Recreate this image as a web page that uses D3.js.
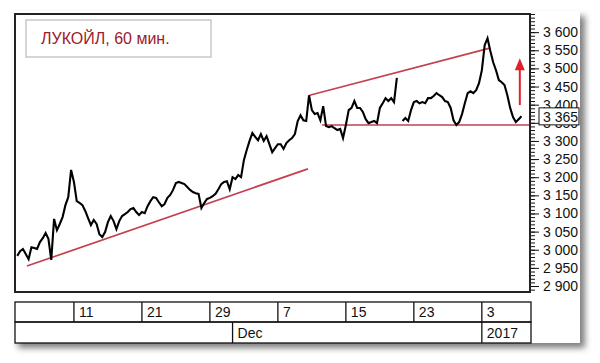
<!DOCTYPE html>
<html>
<head>
<meta charset="utf-8">
<script src="https://cdnjs.cloudflare.com/ajax/libs/d3/7.8.5/d3.min.js"></script>
<style>
    body { margin: 0; background: #fff; }
    svg { display: block; font-family: "Liberation Sans", Arial, sans-serif; }
</style>
</head>
<body>
<svg id="chart" width="600" height="363"></svg>
<script>
// Trading days shown on the chart (no weekends / holidays), one slot each on the x axis
var tradingDays = [
    '2016-11-03', '2016-11-07', '2016-11-08', '2016-11-09', '2016-11-10',
    '2016-11-11', '2016-11-14', '2016-11-15', '2016-11-16', '2016-11-17', '2016-11-18',
    '2016-11-21', '2016-11-22', '2016-11-23', '2016-11-24', '2016-11-25', '2016-11-28',
    '2016-11-29', '2016-11-30', '2016-12-01', '2016-12-02', '2016-12-05', '2016-12-06',
    '2016-12-07', '2016-12-08', '2016-12-09', '2016-12-12', '2016-12-13', '2016-12-14',
    '2016-12-15', '2016-12-16', '2016-12-19', '2016-12-20', '2016-12-21', '2016-12-22',
    '2016-12-23', '2016-12-26', '2016-12-27', '2016-12-28', '2016-12-29', '2016-12-30',
    '2017-01-03', '2017-01-04', '2017-01-05', '2017-01-06'
];

// Close price, 4 readings per trading day (null = hole in the data)
var samplesPerDay = 4;
var prices = [
    2983, 2996, 3002, 2988,   // Nov 3
    2974, 3007, 3005, 3002,
    3021, 3032, 3046, 3030,
    2972, 3085, 3054, 3071,
    3090, 3123, 3145, 3220,
    3187, 3134, 3129, 3123,   // Nov 11
    3107, 3087, 3068, 3082,
    3071, 3043, 3035, 3049,
    3076, 3093, 3079, 3057,
    3079, 3093, 3098, 3104,
    3112, 3115, 3104, 3096,
    3104, 3101, 3120, 3134,   // Nov 21
    3145, 3143, 3131, 3120,
    3126, 3143, 3151, 3165,
    3184, 3187, 3184, 3181,
    3173, 3165, 3159, 3156,
    3154, 3115, 3129, 3140,
    3143, 3148, 3154, 3167,   // Nov 29
    3181, 3187, 3189, 3167,
    3200, 3195, 3206, 3200,   // Dec 1
    3247, 3275, 3300, 3322,
    3311, 3302, 3319, 3300,
    3313, 3291, 3269, 3280,
    3291, 3291, 3278, 3294,   // Dec 7
    3302, 3308, 3319, 3355,
    3371, 3357, 3355, 3426,
    3385, 3374, 3377, 3357,
    3396, 3341, 3338, 3341,
    3335, 3330, 3333, 3308,
    3344, 3385, 3391, 3410,   // Dec 15
    3391, 3391, 3380, 3360,
    3349, 3352, 3355, 3349,
    3391, 3404, 3418, 3410,
    3418, 3407, 3474, null,
    3355, 3363, 3355, 3385,
    3407, 3410, 3404, 3407,   // Dec 23
    3404, 3418, 3418, 3424,
    3432, 3426, 3421, 3410,
    3407, 3391, 3357, 3344,
    3352, 3374, 3404, 3432,
    3437, 3432, 3440, 3459,
    3495, 3564, 3583, 3548,   // Jan 3
    3517, 3495, 3468, 3462,
    3454, 3426, 3391, 3366,
    3352, 3360, 3368
];
var lastPrice = 3365;

// Axis labels
var dayTickDates = ['2016-11-11', '2016-11-21', '2016-11-29', '2016-12-07', '2016-12-15', '2016-12-23', '2017-01-03'];
var dayTickLabels = ['11', '21', '29', '7', '15', '23', '3'];
var periodTickDates = ['2016-12-01', '2017-01-03'];
var periodTickLabels = ['Dec', '2017'];
var priceMajorStep = 50;
var priceMinorStep = 10;

// Hand drawn analysis: [trading day position, price]
var supportLine = [[0.85, 2955], [25.65, 3223]];
var resistanceLine = [[25.8, 3426], [41.7, 3556]];
var floorLine = [[26.9, 3344], [45.25, 3344]];
var targetArrow = [[44.35, 3399], [44.35, 3528]];

var title = 'ЛУКОЙЛ, 60 мин.';

var svg = d3.select('#chart');
var plot = {left: 15, top: 14, right: 530, bottom: 292};

var x = d3.scaleLinear()
    .domain([-0.2, 45.25])
    .range([plot.left, plot.right]);

var y = d3.scaleLinear()
    .domain([2883.5, 3650])
    .range([plot.bottom, plot.top]);

var fmt = d3.formatLocale({decimal: '.', thousands: ' ', grouping: [3], currency: ['', '']}).format(',');

// drop shadow under the whole panel
var defs = svg.append('defs');
defs.append('filter')
    .attr('id', 'shadow')
    .attr('x', '-5%').attr('y', '-5%')
    .attr('width', '115%').attr('height', '115%')
    .append('feDropShadow')
    .attr('dx', 5).attr('dy', 5)
    .attr('stdDeviation', 3)
    .attr('flood-color', '#555')
    .attr('flood-opacity', 0.75);
defs.append('clipPath')
    .attr('id', 'plotClip')
    .append('rect')
    .attr('x', plot.left).attr('y', plot.top)
    .attr('width', plot.right - plot.left)
    .attr('height', plot.bottom - plot.top);

svg.append('rect')
    .attr('x', 13).attr('y', 11)
    .attr('width', 567).attr('height', 332)
    .attr('fill', '#fff')
    .attr('filter', 'url(#shadow)');

// title box
svg.append('rect')
    .attr('x', 26).attr('y', 20)
    .attr('width', 185).attr('height', 37)
    .attr('fill', '#fff')
    .attr('stroke', '#c8c8c8')
    .attr('stroke-width', 1.5);
svg.append('text')
    .attr('x', 41).attr('y', 44)
    .attr('font-size', 16)
    .attr('fill', '#9a1c2e')
    .text(title);

var content = svg.append('g').attr('clip-path', 'url(#plotClip)');

var toPoint = function(d) { return [x(d[0]), y(d[1])]; };
var lineColor = '#c4404f';
[supportLine, resistanceLine, floorLine].forEach(function(seg) {
    content.append('path')
        .attr('d', d3.line()(seg.map(toPoint)))
        .attr('fill', 'none')
        .attr('stroke', lineColor)
        .attr('stroke-width', 1.7);
});

// price line
var priceLine = d3.line()
    .defined(function(d) { return d != null; })
    .x(function(d, i) { return x(i / samplesPerDay); })
    .y(function(d) { return y(d); });
content.append('path')
    .datum(prices)
    .attr('d', priceLine)
    .attr('fill', 'none')
    .attr('stroke', '#000')
    .attr('stroke-width', 2.1)
    .attr('stroke-linejoin', 'miter');

// target arrow
var a0 = toPoint(targetArrow[0]), a1 = toPoint(targetArrow[1]);
content.append('line')
    .attr('x1', a0[0]).attr('y1', a0[1])
    .attr('x2', a1[0]).attr('y2', a1[1] + 10)
    .attr('stroke', '#e0202a')
    .attr('stroke-width', 2);
content.append('path')
    .attr('d', 'M' + a1[0] + ',' + a1[1] + 'l5,12h-10z')
    .attr('fill', '#e0202a');

// frame
svg.append('rect')
    .attr('x', plot.left).attr('y', plot.top)
    .attr('width', plot.right - plot.left)
    .attr('height', plot.bottom - plot.top)
    .attr('fill', 'none')
    .attr('stroke', '#222')
    .attr('stroke-width', 2);

// price axis on the right: minor ticks, then major ticks with labels
var minorTicks = d3.range(Math.ceil(y.domain()[0] / priceMinorStep) * priceMinorStep, y.domain()[1] + 1, priceMinorStep);
var majorTicks = d3.range(2900, 3601, priceMajorStep);

var minorAxis = svg.append('g')
    .attr('transform', 'translate(' + (plot.right + 1) + ',0)')
    .call(d3.axisRight(y).tickValues(minorTicks).tickSize(4).tickFormat(''));
var majorAxis = svg.append('g')
    .attr('transform', 'translate(' + (plot.right + 1) + ',0)')
    .call(d3.axisRight(y).tickValues(majorTicks).tickSize(8).tickPadding(4).tickFormat(fmt));
svg.selectAll('.domain').remove();
svg.selectAll('.tick line').attr('stroke', '#111');
majorAxis.selectAll('text')
    .attr('font-size', 14)
    .attr('font-family', '"Liberation Sans", Arial, sans-serif')
    .attr('fill', '#111');

// last price box
var lastY = y(lastPrice);
svg.append('rect')
    .attr('x', 539).attr('y', lastY - 9.5)
    .attr('width', 40).attr('height', 17)
    .attr('fill', '#fff')
    .attr('stroke', '#111');
svg.append('text')
    .attr('x', 543).attr('y', lastY)
    .attr('dy', '0.32em')
    .attr('font-size', 14)
    .attr('fill', '#111')
    .text(fmt(lastPrice));

// date axis: two rows of cells
var rows = [{top: 302, bottom: 322, dates: dayTickDates, labels: dayTickLabels},
            {top: 322, bottom: 343, dates: periodTickDates, labels: periodTickLabels}];
var dateAxis = svg.append('g');
rows.forEach(function(row) {
    dateAxis.append('rect')
        .attr('x', plot.left).attr('y', row.top)
        .attr('width', plot.right - plot.left + 1)
        .attr('height', row.bottom - row.top)
        .attr('fill', 'none')
        .attr('stroke', '#111')
        .attr('stroke-width', 1.3);
    var cells = dateAxis.selectAll(null)
        .data(row.dates)
        .enter();
    cells.append('line')
        .attr('x1', function(d) { return x(tradingDays.indexOf(d)); })
        .attr('x2', function(d) { return x(tradingDays.indexOf(d)); })
        .attr('y1', row.top).attr('y2', row.bottom)
        .attr('stroke', '#111')
        .attr('stroke-width', 1.3);
    cells.append('text')
        .attr('x', function(d) { return x(tradingDays.indexOf(d)) + 5; })
        .attr('y', row.bottom - 5)
        .attr('font-size', 14)
        .attr('fill', '#111')
        .text(function(d, i) { return row.labels[i]; });
});
</script>
</body>
</html>
